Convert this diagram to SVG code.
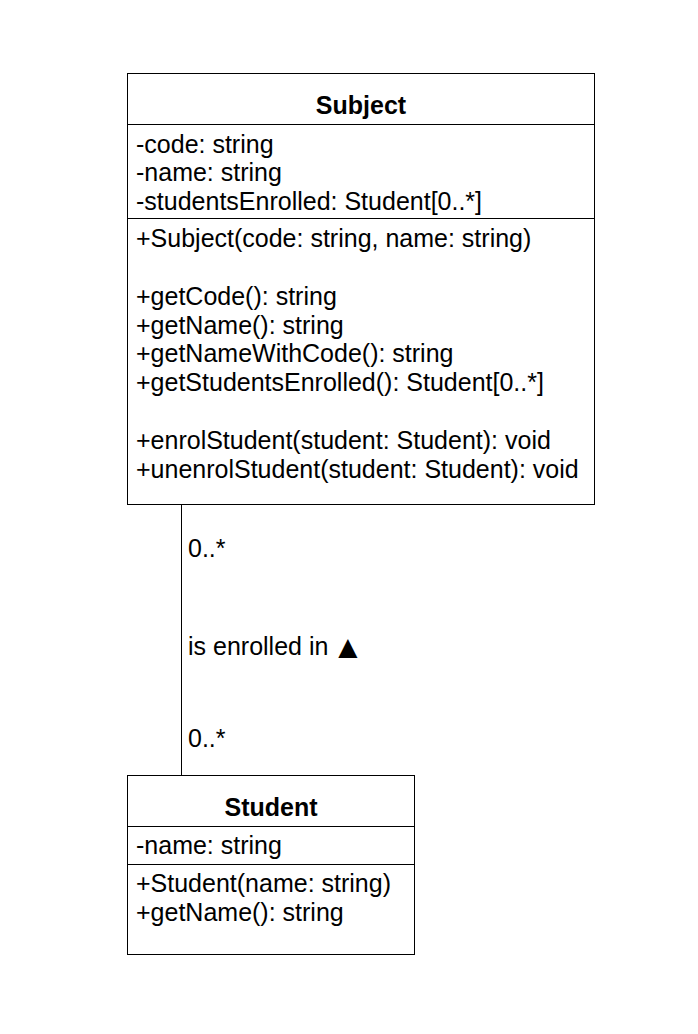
<svg xmlns="http://www.w3.org/2000/svg" width="698" height="1034" viewBox="0 0 698 1034">
<style>
text{font-family:"Liberation Sans",Arial,sans-serif;font-size:25px;fill:#000}
.t{font-weight:bold;text-anchor:middle}
.b{fill:#fff;stroke:#000;stroke-width:1}
.l{stroke:#000;stroke-width:1}
.tri{font-family:"DejaVu Sans",sans-serif;font-size:25px}
</style>
<rect width="698" height="1034" fill="#fff"/>
<g id="connectors">
<line class="l" x1="181.5" y1="504" x2="181.5" y2="775"/>
<text x="188" y="557">0..*</text>
<text x="188" y="655">is enrolled in <tspan class="tri" dx="3">▲</tspan></text>
<text x="188" y="747">0..*</text>
</g>
<g id="subject">
<rect class="b" x="127.5" y="73.5" width="467" height="431"/>
<line class="l" x1="127.5" y1="124.5" x2="594.5" y2="124.5"/>
<line class="l" x1="127.5" y1="218.5" x2="594.5" y2="218.5"/>
<text class="t" x="361" y="114">Subject</text>
<text x="136" y="153">-code: string</text>
<text x="136" y="181">-name: string</text>
<text x="136" y="210">-studentsEnrolled: Student[0..*]</text>
<text x="136" y="247">+Subject(code: string, name: string)</text>
<text x="136" y="305">+getCode(): string</text>
<text x="136" y="334">+getName(): string</text>
<text x="136" y="362">+getNameWithCode(): string</text>
<text x="136" y="391">+getStudentsEnrolled(): Student[0..*]</text>
<text x="136" y="449">+enrolStudent(student: Student): void</text>
<text x="136" y="478">+unenrolStudent(student: Student): void</text>
</g>
<g id="student">
<rect class="b" x="127.5" y="775.5" width="287" height="179"/>
<line class="l" x1="127.5" y1="826.5" x2="414.5" y2="826.5"/>
<line class="l" x1="127.5" y1="864.5" x2="414.5" y2="864.5"/>
<text class="t" x="271" y="816">Student</text>
<text x="136" y="854">-name: string</text>
<text x="136" y="892">+Student(name: string)</text>
<text x="136" y="921">+getName(): string</text>
</g>
</svg>
